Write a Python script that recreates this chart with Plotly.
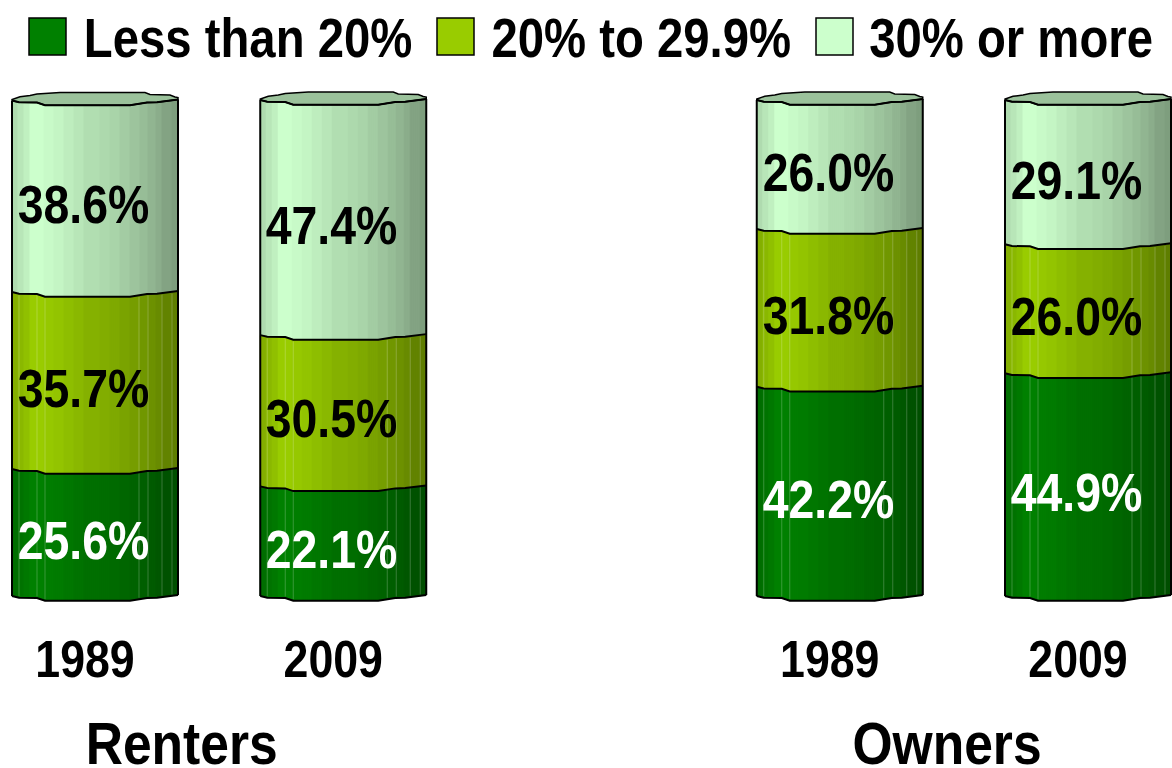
import numpy as np
import plotly.graph_objects as go

# ---- data ----
groups = ["Renters", "Owners"]
tick_labels = ["1989", "2009", "1989", "2009"]
positions = [0, 1, 3, 4]
series_names = ["Less than 20%", "20% to 29.9%", "30% or more"]
less_than_20 = [25.6, 22.1, 42.2, 44.9]
from_20_to_29 = [35.7, 30.5, 31.8, 26.0]
over_30 = [38.6, 47.4, 26.0, 29.1]

# ---- style ----
W, H = 1172, 768
FONT = "Liberation Sans, Arial, sans-serif"
BASE = [(0, 128, 0), (153, 204, 0), (204, 255, 204)]
TEXT = ["white", "black", "black"]
PX_PER_UNIT = 4.96
Y0_PX = 597
UNIT_PX = 248.25
X0_PX = 95
BAR_PX = 166
px_x = lambda p: (p - X0_PX) / UNIT_PX
x_range = [px_x(0), px_x(W)]
y_low = -1.0
y_range = [y_low, Y0_PX / PX_PER_UNIT]
y_dom0 = (H - (Y0_PX - y_low * PX_PER_UNIT)) / H

band_edges = np.array([36, 57, 72, 90, 112, 135, 160, 190, 222, 252, 300, 330, 360, 390, 418, 443, 468, 485, 515, 535]) / 3 - 12
band_edges = band_edges * BAR_PX / band_edges[-1]
band_shade = [.86, .9, .94, 1, 1, .98, .96, .93, .9, .87, .85, .83, .8, .77, .74, .71, .68, .64, .62]
seam_px = [7, 25, 33, 127, 136, 150, 160]

rim_x = np.array([0, 7, 25, 33, 118, 135, 145, 161, 166], float)
rim_off = np.array([.2, -.14, -.2, -.75, -.75, -.2, -.14, .2, .4])
back_x = np.array([0, 8, 18, 25, 48, 133, 138, 158, 163, 166], float)
back_off = np.array([.4, .95, 1.2, 1.5, 1.8, 1.8, 1.4, 1.3, .9, .8])


def rim(fx):
    return np.interp(fx, rim_x, rim_off)


def shade(rgb, k):
    return "rgb(%d,%d,%d)" % tuple(round(c * k) for c in rgb)


all_series = [less_than_20, from_20_to_29, over_30]
fig = go.Figure()

strip_px = np.arange(0, BAR_PX, 2.0)
strip_mid = strip_px + 1.0
strip_band = np.clip(np.searchsorted(band_edges, strip_mid) - 1, 0, len(band_shade) - 1)

cum = np.zeros(4)
levels = [cum.copy()]
for s, (name, vals) in enumerate(zip(series_names, all_series)):
    xs, bases, heights, colors = [], [], [], []
    for i, p in enumerate(positions):
        for m, b in zip(strip_mid, strip_band):
            xs.append(p + (m - BAR_PX / 2) / UNIT_PX)
            bases.append(cum[i] + rim(m))
            heights.append(vals[i])
            colors.append(shade(BASE[s], band_shade[b]))
    fig.add_trace(go.Bar(x=xs, y=heights, base=bases, width=3.0 / UNIT_PX,
                         marker=dict(color=colors, line=dict(width=0)),
                         name=name, showlegend=False, hoverinfo="skip"))
    cum = cum + np.array(vals)
    levels.append(cum.copy())

# faint vertical seams on the darker layers
sx, sy = [], []
for i, p in enumerate(positions):
    for sp in seam_px:
        sx += [p + (sp - BAR_PX / 2) / UNIT_PX] * 2 + [None]
        sy += [levels[0][i] + rim(sp) + .3, levels[2][i] + rim(sp) - .3, None]
fig.add_trace(go.Scatter(x=sx, y=sy, mode="lines", line=dict(color="rgba(255,255,255,0.22)", width=1),
                         showlegend=False, hoverinfo="skip"))

# caps and outlines
for i, p in enumerate(positions):
    top = levels[3][i]
    ex = (rim_x - BAR_PX / 2) / UNIT_PX + p
    bx = (back_x - BAR_PX / 2) / UNIT_PX + p
    cap_x = list(ex) + list(bx[::-1]) + [ex[0]]
    cap_y = list(top + rim_off) + list(top + back_off[::-1]) + [top + rim_off[0]]
    fig.add_trace(go.Scatter(x=cap_x, y=cap_y, mode="lines", fill="toself",
                             fillcolor=shade(BASE[2], .76), line=dict(color="black", width=1.5),
                             showlegend=False, hoverinfo="skip"))
    fig.add_trace(go.Scatter(x=ex, y=top + rim_off, mode="lines", line=dict(color="black", width=2),
                             showlegend=False, hoverinfo="skip", cliponaxis=False))
    for lvl in levels[:3]:
        fig.add_trace(go.Scatter(x=ex, y=lvl[i] + rim_off, mode="lines", line=dict(color="black", width=2),
                                 showlegend=False, hoverinfo="skip", cliponaxis=False))
    for e, off in ((ex[0], rim_off[0]), (ex[-1], rim_off[-1])):
        fig.add_trace(go.Scatter(x=[e, e], y=[off, top + off], mode="lines", line=dict(color="black", width=2),
                                 showlegend=False, hoverinfo="skip", cliponaxis=False))

# value labels
annotations = []
for s, vals in enumerate(all_series):
    for i, p in enumerate(positions):
        annotations.append(dict(x=p, y=levels[s][i] + vals[i] / 2, xref="x", yref="y", text=f"{vals[i]:.1f}%",
                                showarrow=False, xshift=-11.5, yshift=-6.5, xanchor="center", yanchor="middle",
                                font=dict(family=FONT, size=54, weight=700, color=TEXT[s])))
# group titles
for g, cx in zip(groups, [181, 947]):
    annotations.append(dict(x=cx / W, y=1 - 743 / H, xref="paper", yref="paper", text=g, showarrow=False,
                            xanchor="center", yanchor="middle",
                            font=dict(family=FONT, size=60, weight=700, color="black")))

# legend
shapes = []
for name, c, sq, tc in zip(series_names, BASE, [29, 437, 816], [247.5, 641, 1011]):
    shapes.append(dict(type="rect", xref="paper", yref="paper", x0=sq / W, x1=(sq + 37) / W,
                       y0=1 - 55 / H, y1=1 - 18 / H, fillcolor=shade(c, 1), line=dict(color="black", width=1.5)))
    annotations.append(dict(x=tc / W, y=1 - 38 / H, xref="paper", yref="paper", text=name, showarrow=False,
                            xanchor="center", yanchor="middle",
                            font=dict(family=FONT, size=55, weight=700, color="black")))

fig.update_layout(
    width=W, height=H, autosize=False, barmode="overlay", showlegend=False,
    margin=dict(l=0, r=0, t=0, b=0), paper_bgcolor="white", plot_bgcolor="white",
    annotations=annotations, shapes=shapes,
    font=dict(family=FONT),
    xaxis=dict(range=x_range, tickmode="array", tickvals=positions, ticktext=tick_labels, showgrid=False,
               zeroline=False, showline=False, ticks="outside", ticklen=12, tickcolor="rgba(0,0,0,0)",
               ticklabelshift=-10,
               tickfont=dict(family=FONT, size=52, weight=700, color="black")),
    yaxis=dict(range=y_range, domain=[y_dom0, 1], visible=False, showgrid=False, zeroline=False),
)

# the reference lettering is a horizontally condensed Arial Bold
css = (".annotation-text, .xtick {transform-box: fill-box; transform-origin: center; transform: scaleX(0.86);}")
post = ("document.body.style.margin='0';"
        "var st=document.createElement('style');st.textContent=%r;document.head.appendChild(st);" % css)
fig.write_html("out.html", config={"displayModeBar": False}, post_script=post)
